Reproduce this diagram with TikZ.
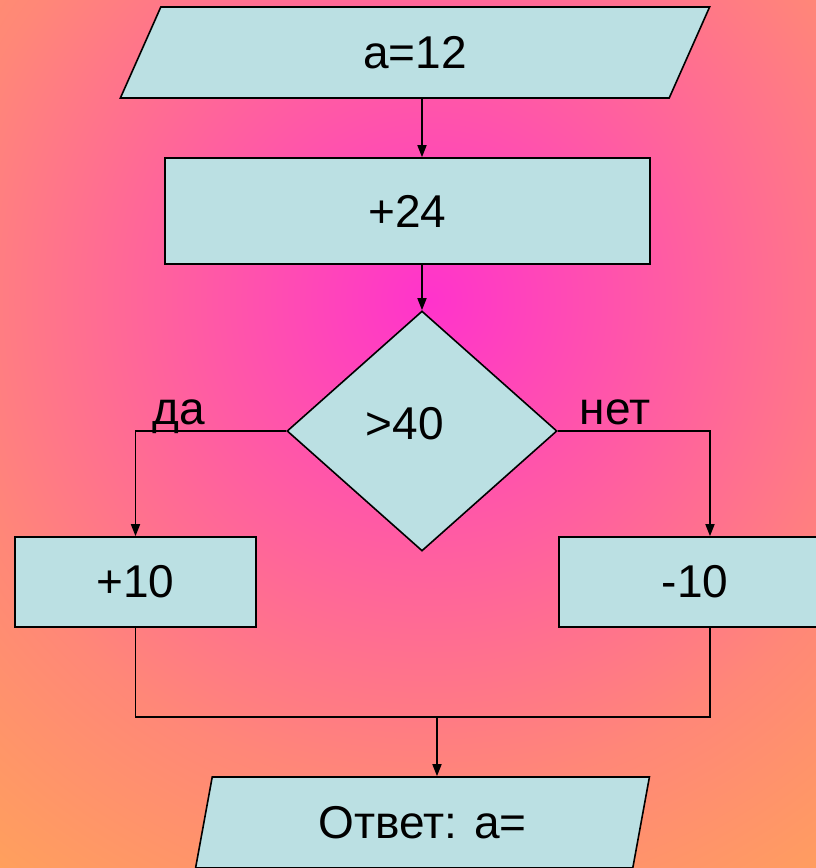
\documentclass[tikz,border=0pt]{standalone}
\usepackage{fontspec}
\setmainfont{Liberation Sans}
\usetikzlibrary{shapes.geometric,arrows.meta}
\definecolor{boxfill}{RGB}{187,224,227}
\pgfdeclareradialshading{bgshade}{\pgfpoint{0bp}{0bp}}{rgb(0bp)=(1,0.2,0.8); rgb(17bp)=(1,0.53,0.47); rgb(25bp)=(1,0.63,0.36); rgb(50bp)=(1,0.63,0.36)}
\begin{document}
\begin{tikzpicture}[x=1pt,y=-1pt,
  txt/.style={font=\fontsize{46}{50}\selectfont},
  box/.style={draw=black, line width=1.6pt, fill=boxfill, rectangle, inner sep=0pt, txt},
  para/.style={draw=black, line width=1.6pt, fill=boxfill, trapezium, trapezium left angle=75.8, trapezium right angle=104.2, trapezium stretches=true, inner sep=0pt, txt},
  dec/.style={draw=black, line width=1.6pt, fill=boxfill, diamond, inner sep=0pt},
  conn/.style={line width=1.6pt},
  arr/.style={conn, -{Triangle[length=12pt,width=9pt]}}
]
\useasboundingbox (0,0) rectangle (816,868);
\clip (0,0) rectangle (816,868);
\shade[shading=bgshade] (430,300) circle [radius=720];

\node[para, minimum width=590, minimum height=91] (inp) at (415,52.5) {a=12};
\node[box, minimum width=485, minimum height=106] (r24) at (407.5,211) {+24};
\node[dec, minimum width=270, minimum height=240] (dia) at (422,431) {};
\node[txt] (diat) at (405,424) {>40};
\node[box, minimum width=241, minimum height=90] (p10) at (135.5,582) {+10};
\node[box, minimum width=272, minimum height=90] (m10) at (695,582) {-10};
\node[para, minimum width=455, minimum height=91] (out) at (422.5,822.5) {Ответ: a=};

\node[txt, anchor=base] (yes) at (179,424) {да};
\node[txt, anchor=base] (no) at (615,424) {нет};

\coordinate (rcol) at (710,0);
\coordinate (mj) at (437,717);

\draw[arr] (inp.south -| dia.north) -- (r24.north -| dia.north);
\draw[arr] (r24.south -| dia.north) -- (dia.north);
\draw[arr] (dia.west) -| (p10.north);
\draw[arr] (dia.east) -| (m10.north -| rcol);
\draw[conn] (p10.south) |- (mj) -| (m10.south -| rcol);
\draw[arr] (mj) -- (out.north -| mj);
\end{tikzpicture}
\end{document}
